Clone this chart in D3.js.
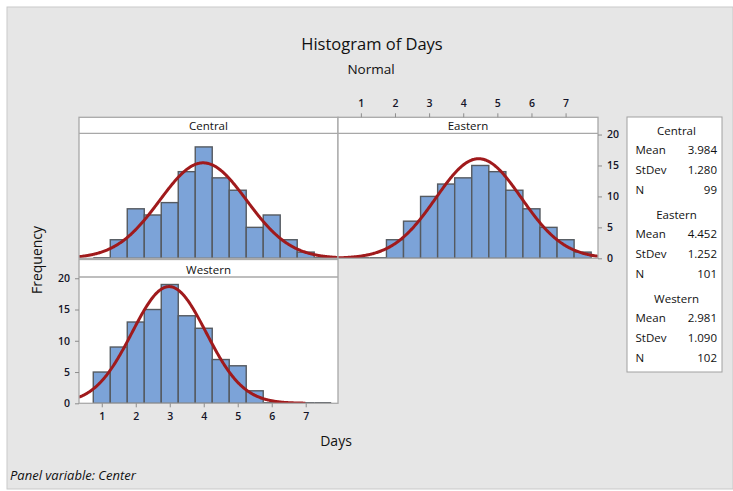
<!DOCTYPE html>
<html><head><meta charset="utf-8">
<script src="https://cdn.jsdelivr.net/npm/d3@7"></script>
<style>
body{margin:0;background:#fff;}
svg{display:block;font-family:"Open Sans","Noto Sans",sans-serif;}
</style></head>
<body>
<svg id="chart" width="733" height="491"></svg>
<script>
// ---- data ----
const binCenters = [1, 1.5, 2, 2.5, 3, 3.5, 4, 4.5, 5, 5.5, 6, 6.5, 7, 7.5];
const binWidth = 0.5;
const panelNames = ["Central", "Eastern", "Western"];
const centralCounts = [0, 3, 8, 7, 9, 14, 18, 13, 11, 5, 7, 3, 1, 0];
const easternCounts = [0, 0, 3, 6, 10, 12, 13, 15, 14, 11, 8, 5, 3, 1];
const westernCounts = [5, 9, 13, 15, 19, 14, 12, 7, 6, 2, 0, 0, 0, 0];
const means = [3.984, 4.452, 2.981];
const stdevs = [1.280, 1.252, 1.090];
const ns = [99, 101, 102];
const curveEnds = [7.95, 7.95, 7.0];
const xTicks = [1, 2, 3, 4, 5, 6, 7];
const yTicks = [0, 5, 10, 15, 20];
const xDomain = [0.33, 7.95];
const yDomain = [0, 20.2];

const counts = [centralCounts, easternCounts, westernCounts];

const svg = d3.select("#chart");
// background
svg.append("rect").attr("x", 7).attr("y", 7).attr("width", 726).attr("height", 482)
  .attr("fill", "#e6e6e6").attr("stroke", "#c9c9c9").attr("stroke-width", 1);

// titles
svg.append("text").attr("x", 372).attr("y", 50).attr("text-anchor", "middle")
  .attr("font-size", 16.5).attr("font-weight", 500).attr("fill", "#111").text("Histogram of Days");
svg.append("text").attr("x", 371).attr("y", 74).attr("text-anchor", "middle")
  .attr("font-size", 13.5).attr("font-weight", 500).attr("fill", "#111").text("Normal");

// panel geometry
const panels = [
  {x0: 79, x1: 338, stripTop: 117.3, plotTop: 133.3, plotBot: 258.3},
  {x0: 338, x1: 598, stripTop: 117.3, plotTop: 133.3, plotBot: 258.3},
  {x0: 79, x1: 338, stripTop: 259.5, plotTop: 277, plotBot: 403.3}
];

const borderCol = "#a8a8a8";
const barFill = "#7ca3d8";
const barStroke = "#555a60";
const curveCol = "#a01a1c";

panels.forEach((p, i) => {
  const x = d3.scaleLinear().domain(xDomain).range([p.x0, p.x1]);
  const y = d3.scaleLinear().domain(yDomain).range([p.plotBot, p.plotTop]);
  p.x = x; p.y = y;
  const g = svg.append("g");
  // strip
  g.append("rect").attr("x", p.x0).attr("y", p.stripTop).attr("width", p.x1 - p.x0)
    .attr("height", p.plotTop - p.stripTop).attr("fill", "#fff");
  g.append("text").attr("x", (p.x0 + p.x1) / 2).attr("y", p.plotTop - 3.5)
    .attr("text-anchor", "middle").attr("font-size", 11.5).attr("font-weight", 500).attr("fill", "#111")
    .text(panelNames[i]);
  // plot area
  g.append("rect").attr("x", p.x0).attr("y", p.plotTop).attr("width", p.x1 - p.x0)
    .attr("height", p.plotBot - p.plotTop).attr("fill", "#fff");

  const clipId = "clip" + i;
  svg.append("clipPath").attr("id", clipId).append("rect")
    .attr("x", p.x0).attr("y", p.plotTop).attr("width", p.x1 - p.x0).attr("height", p.plotBot - p.plotTop);
  const pg = g.append("g").attr("clip-path", `url(#${clipId})`);

  const data = binCenters.map((c, k) => ({c, n: counts[i][k]}));
  // empty bins as baseline line
  pg.selectAll("line.zero").data(data.filter(d => d.n === 0)).enter().append("line")
    .attr("x1", d => x(d.c - binWidth / 2)).attr("x2", d => x(d.c + binWidth / 2))
    .attr("y1", y(0) - 0.5).attr("y2", y(0) - 0.5)
    .attr("stroke", barStroke).attr("stroke-width", 1.5);
  pg.selectAll("rect.bar").data(data.filter(d => d.n > 0)).enter().append("rect")
    .attr("x", d => x(d.c - binWidth / 2)).attr("width", d => x(d.c + binWidth / 2) - x(d.c - binWidth / 2))
    .attr("y", d => y(d.n)).attr("height", d => y(0) - y(d.n))
    .attr("fill", barFill).attr("stroke", barStroke).attr("stroke-width", 1.4);

  // fitted normal curve
  const m = means[i], s = stdevs[i], N = ns[i];
  const pts = d3.range(xDomain[0], curveEnds[i] + 1e-9, 0.02).map(v =>
    [v, N * binWidth * Math.exp(-0.5 * ((v - m) / s) ** 2) / (s * Math.sqrt(2 * Math.PI))]);
  pg.append("path").attr("d", d3.line().x(d => x(d[0])).y(d => y(d[1]))(pts))
    .attr("fill", "none").attr("stroke", curveCol).attr("stroke-width", 3);

  // borders
  g.append("rect").attr("x", p.x0).attr("y", p.stripTop).attr("width", p.x1 - p.x0)
    .attr("height", p.plotBot - p.stripTop).attr("fill", "none").attr("stroke", borderCol).attr("stroke-width", 1.3);
  g.append("line").attr("x1", p.x0).attr("x2", p.x1).attr("y1", p.plotTop).attr("y2", p.plotTop)
    .attr("stroke", borderCol).attr("stroke-width", 1.3);
});

// axes
const axisStyle = (sel) => {
  sel.select(".domain").remove();
  sel.selectAll(".tick line").attr("stroke", "#8c8c8c");
  sel.selectAll(".tick text").attr("fill", "#141428").style("font-size", "10.5px").style("font-weight", "600")
    .style("font-family", '"Open Sans","Noto Sans",sans-serif');
};
// top axis on Eastern
svg.append("g").attr("transform", `translate(0,${panels[1].stripTop})`)
  .call(d3.axisTop(panels[1].x).tickValues(xTicks).tickFormat(d3.format("d")).tickSize(4).tickPadding(6))
  .call(axisStyle);
// right axis on Eastern
svg.append("g").attr("transform", `translate(${panels[1].x1},0)`)
  .call(d3.axisRight(panels[1].y).tickValues(yTicks).tickSize(4).tickPadding(5))
  .call(axisStyle);
// left axis on Western
svg.append("g").attr("transform", `translate(${panels[2].x0},0)`)
  .call(d3.axisLeft(panels[2].y).tickValues(yTicks).tickSize(4).tickPadding(5))
  .call(axisStyle);
// bottom axis on Western
svg.append("g").attr("transform", `translate(0,${panels[2].plotBot})`)
  .call(d3.axisBottom(panels[2].x).tickValues(xTicks).tickFormat(d3.format("d")).tickSize(4).tickPadding(5))
  .call(axisStyle);

// axis titles
svg.append("text").attr("transform", "translate(42,260) rotate(-90)").attr("text-anchor", "middle")
  .attr("font-size", 14).attr("font-weight", 500).attr("fill", "#111").text("Frequency");
svg.append("text").attr("x", 336).attr("y", 446).attr("text-anchor", "middle")
  .attr("font-size", 14).attr("font-weight", 500).attr("fill", "#111").text("Days");
svg.append("text").attr("x", 10).attr("y", 480).attr("font-size", 13).attr("font-style", "italic")
  .attr("font-weight", 500).attr("fill", "#111").text("Panel variable: Center");

// legend
const lg = svg.append("g");
lg.append("rect").attr("x", 627).attr("y", 117).attr("width", 95).attr("height", 255)
  .attr("fill", "#fff").attr("stroke", "#a0a0a0").attr("stroke-width", 1);
panelNames.forEach((name, i) => {
  const top = 130 + i * 84;
  const rows = [["Mean", means[i].toFixed(3)], ["StDev", stdevs[i].toFixed(3)], ["N", String(ns[i])]];
  lg.append("text").attr("x", 676.5).attr("y", top + 4.5).attr("text-anchor", "middle")
    .attr("font-size", 11.5).attr("font-weight", 500).attr("fill", "#111").text(name);
  rows.forEach((r, k) => {
    const yy = top + 19.5 + k * 20 + 4.5;
    lg.append("text").attr("x", 635.5).attr("y", yy).attr("font-size", 11.5).attr("font-weight", 500)
      .attr("fill", "#111").text(r[0]);
    lg.append("text").attr("x", 717).attr("y", yy).attr("text-anchor", "end")
      .attr("font-size", 11.5).attr("font-weight", 500).attr("fill", "#111").text(r[1]);
  });
});
</script>
</body></html>
